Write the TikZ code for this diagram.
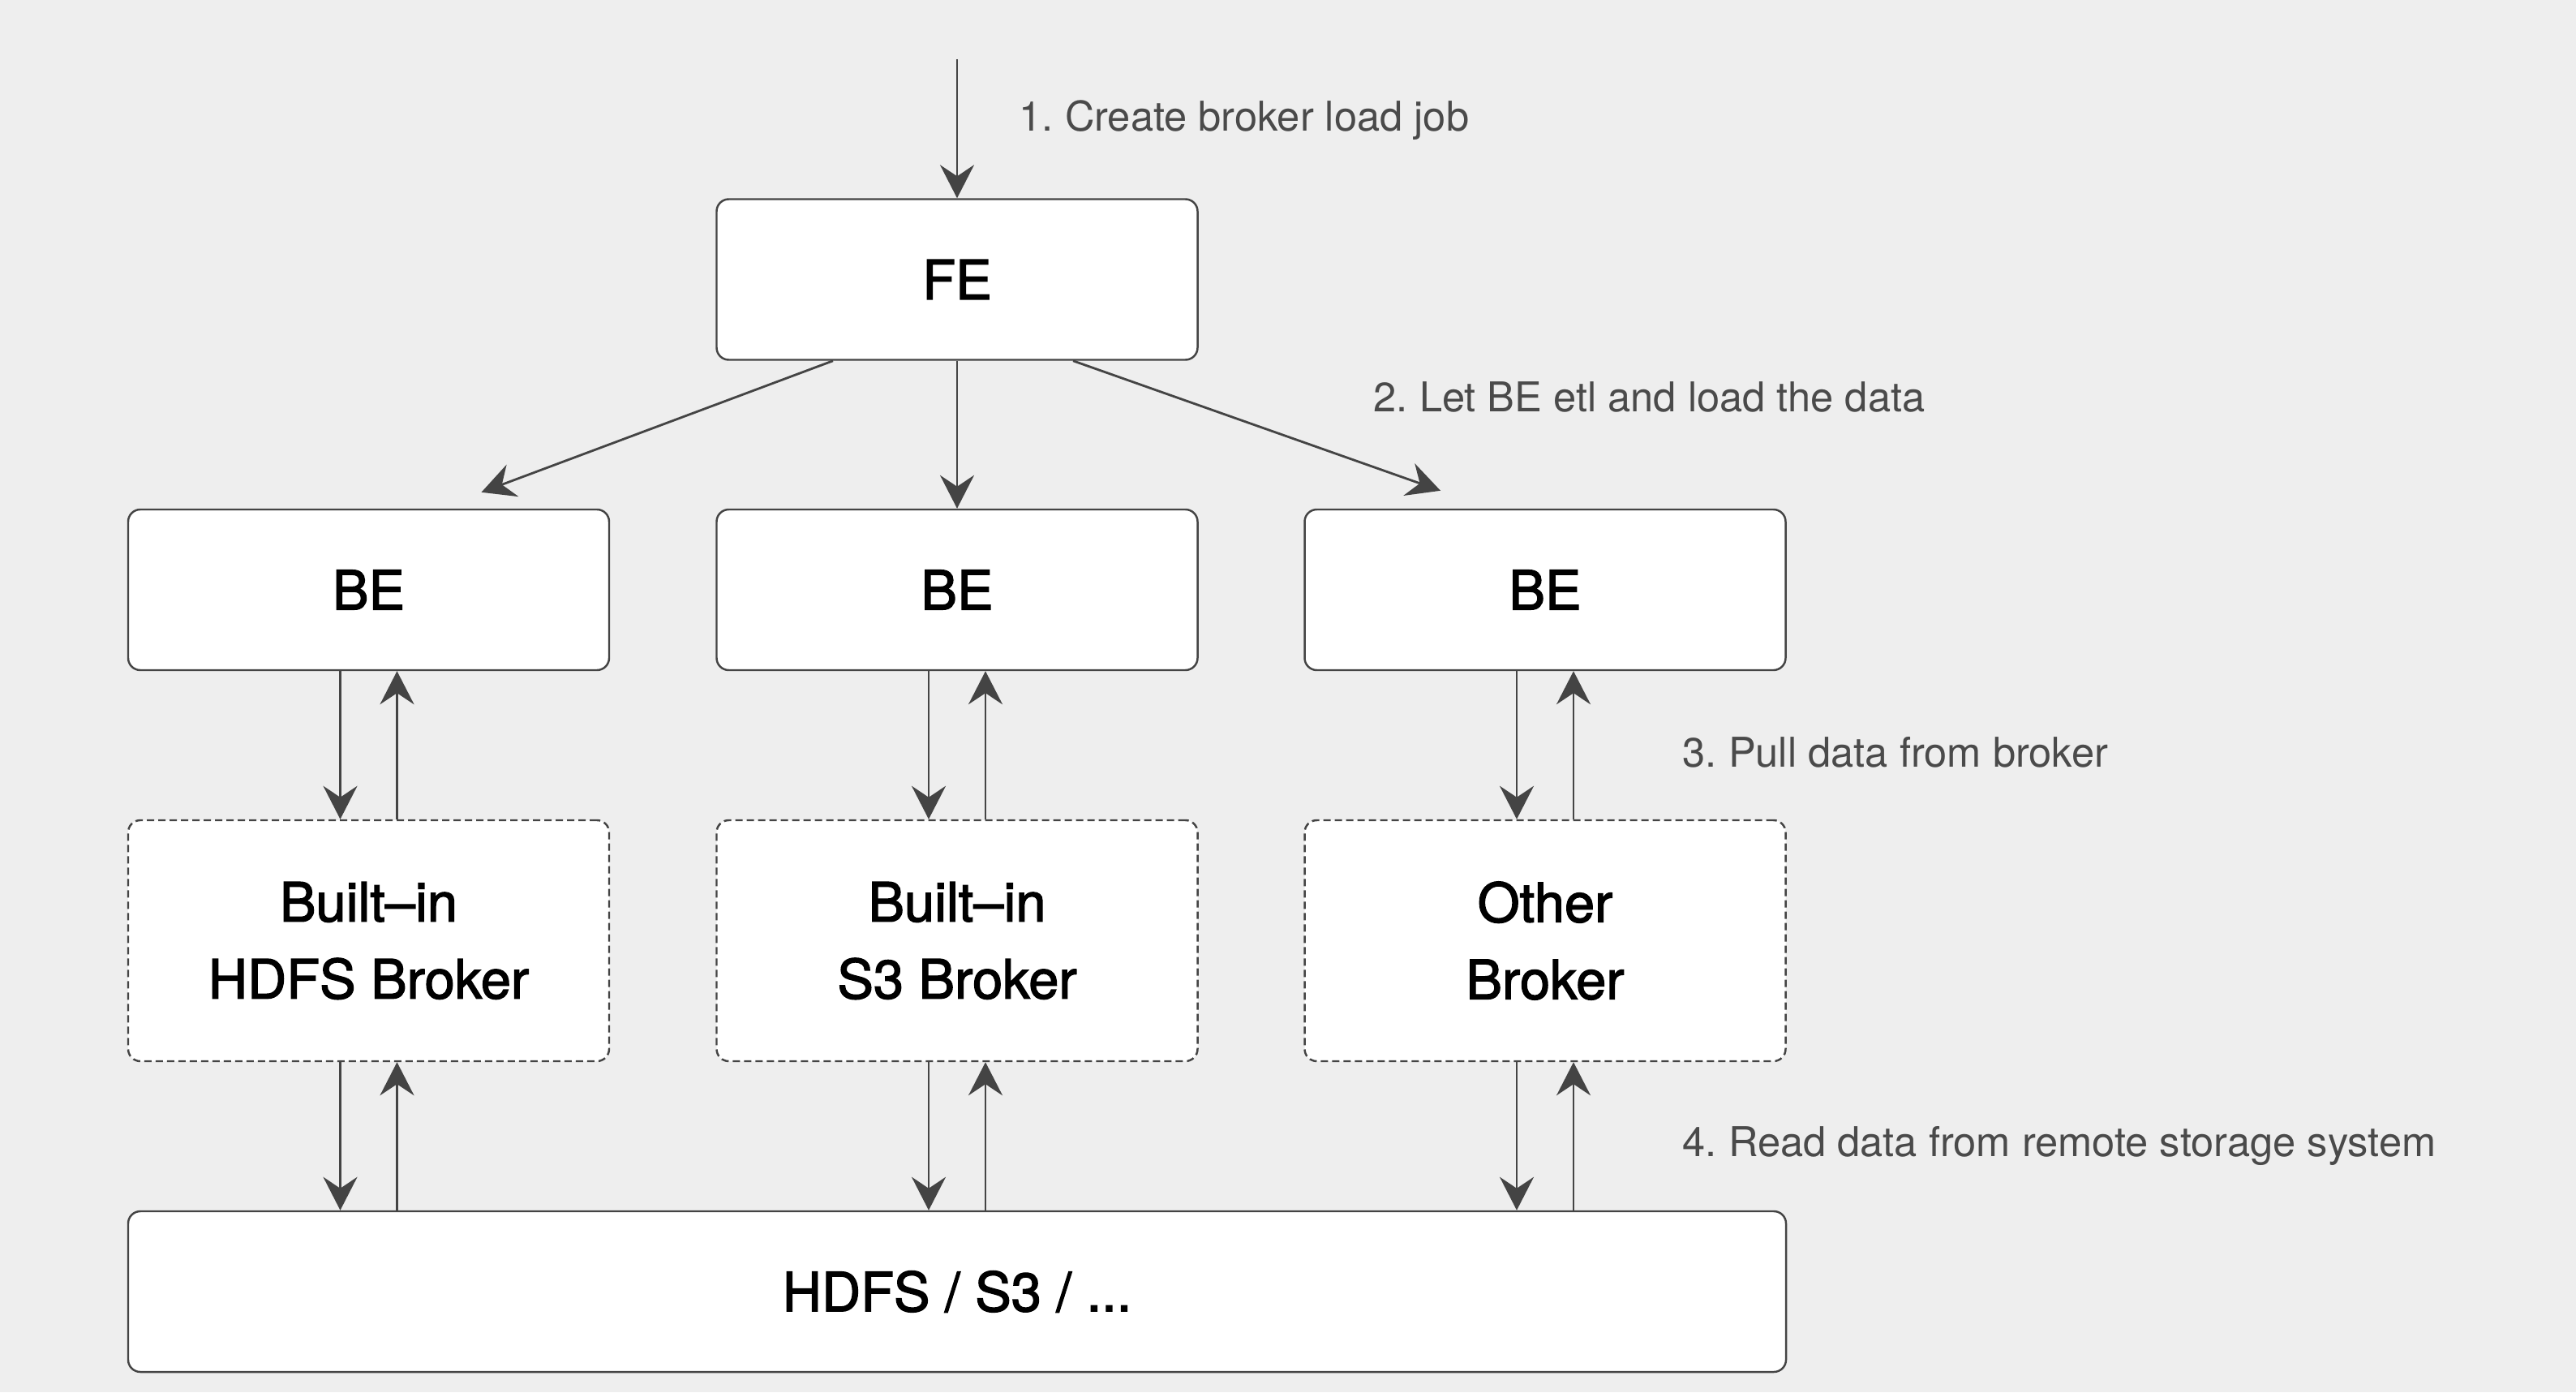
\documentclass[tikz,border=0pt]{standalone}
\usepackage{fontspec}
\setmainfont{TeX Gyre Heros}
\newfontfamily\boxfont[FakeBold=2]{TeX Gyre Heros}
\frenchspacing
\usetikzlibrary{arrows.meta}
\definecolor{bg}{HTML}{EEEEEE}
\definecolor{edge}{HTML}{444444}
\definecolor{note}{HTML}{4A4A4A}
\tikzset{
    box/.style={draw=edge, fill=white, rounded corners=0.15cm, line width=0.7pt, minimum width=5.93cm, minimum height=1.98cm, inner sep=0pt, align=center, font=\boxfont\fontsize{19}{27}\selectfont},
    brokerbox/.style={box, dash pattern=on 0.09cm off 0.05cm, minimum height=2.97cm},
    flow/.style={draw=edge, line width=0.8pt, -{Stealth[length=0.41cm, width=0.42cm, inset=0.14cm]}},
    note/.style={anchor=base west, inner sep=0pt, text=note, font=\fontsize{14.4}{17}\selectfont}
}
\begin{document}
\begin{tikzpicture}
        \fill[bg] (0,0) rectangle (31.76,17.16);
        \useasboundingbox (0,0) rectangle (31.76,17.16);

        \node (fe) at (11.80, 13.715) [box]{FE};
        \node (be1) at (4.545, 9.89) [box]{BE};
        \node (be2) at (11.80, 9.89) [box]{BE};
        \node (be3) at (19.05, 9.89) [box]{BE};
        \node (br1) at (4.545, 5.565) [brokerbox]{Built–in\\HDFS Broker};
        \node (br2) at (11.80, 5.565) [brokerbox]{Built–in\\S3 Broker};
        \node (br3) at (19.05, 5.565) [brokerbox]{Other\\Broker};
        \node (store) at (11.80, 1.24) [box, minimum width=20.44cm]{HDFS / S3 / ...};
        \coordinate (client) at (11.80, 16.43);

        \draw[flow] (client) -- (fe);
        \draw[flow] ([xshift=-1.53cm]fe.south) -- ([xshift=1.39cm, yshift=0.2cm]be1.north);
        \draw[flow] (fe) -- (be2);
        \draw[flow] ([xshift=1.43cm]fe.south) -- ([xshift=-1.29cm, yshift=0.22cm]be3.north);
        \foreach \be/\br in {be1/br1, be2/br2, be3/br3}{
            \draw[flow] ([xshift=-0.35cm]\be.south) -- ([xshift=-0.35cm]\br.north);
            \draw[flow] ([xshift=0.35cm]\br.north) -- ([xshift=0.35cm]\be.south);
            \draw[flow] ([xshift=-0.35cm]\br.south) -- ([xshift=-0.35cm]\br.south |- store.north);
            \draw[flow] ([xshift=0.35cm]\br.south |- store.north) -- ([xshift=0.35cm]\br.south);
        }

        \node (step1) at (12.56, 15.54) [note]{1. Create broker load job};
        \node (step2) at (16.93, 12.09) [note]{2. Let BE etl and load the data};
        \node (step3) at (20.74, 7.71) [note]{3. Pull data from broker};
        \node (step4) at (20.74, 2.91) [note]{4. Read data from remote storage system};
    \end{tikzpicture}
\end{document}
